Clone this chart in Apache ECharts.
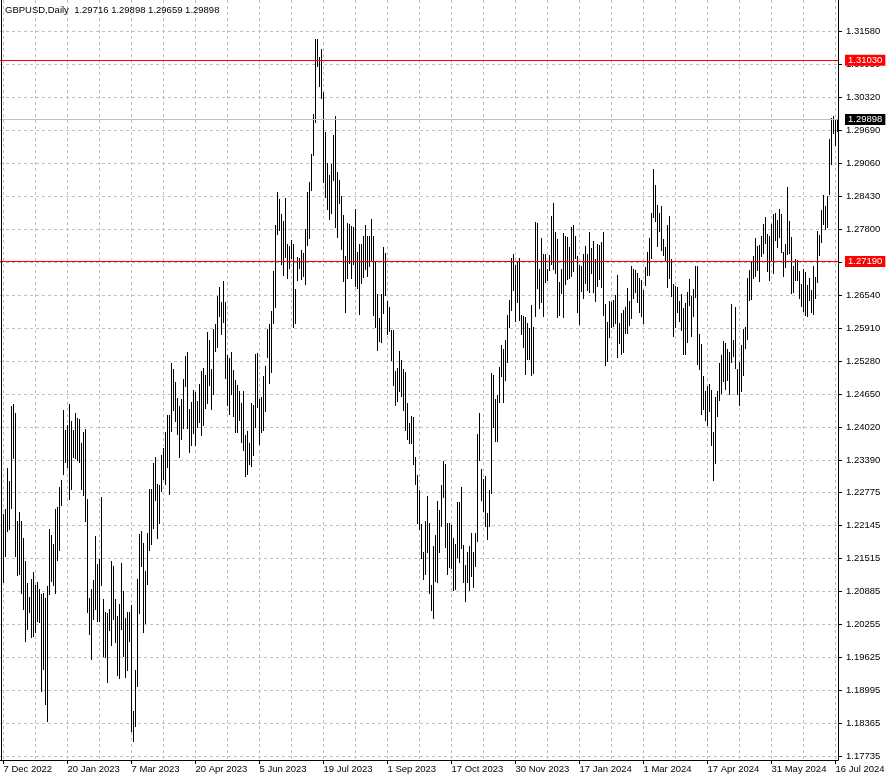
<!DOCTYPE html>
<html><head><meta charset="utf-8">
<script src="https://cdn.jsdelivr.net/npm/echarts@6/dist/echarts.min.js"></script>
<style>html,body{margin:0;padding:0;background:#fff}#c{width:888px;height:781px}</style>
</head><body><div id="c"></div>
<script>
const symbolName = 'GBPUSD';
const timeframe = 'Daily';
const lastBar = { open: 1.29716, high: 1.29898, low: 1.29659, close: 1.29898 };

// daily highs, one per bar (bar 0 = 7 Dec 2022)
const highs = [
1.2236,1.2247,1.2324,1.2299,1.2444,1.2446,1.2429,1.2224,1.2241,1.2224,
1.2192,1.2148,1.2106,1.2079,1.2113,1.2127,1.2102,1.2108,1.2094,1.2085,
1.2087,1.2077,1.2100,1.2208,1.2197,1.2179,1.2247,1.2250,1.2289,1.2301,
1.2436,1.2398,1.2406,1.2447,1.2415,1.2398,1.2430,1.2420,1.2418,1.2373,
1.2394,1.2400,1.2266,1.2077,1.2094,1.2110,1.2194,1.2141,1.2151,1.2270,
1.2075,1.2049,1.2048,1.2056,1.2148,1.2137,1.2075,1.2043,1.2066,1.2144,
1.2089,1.2038,1.2049,1.2049,1.2064,1.1860,1.1940,1.2113,1.2199,1.2205,
1.2182,1.2129,1.2201,1.2285,1.2284,1.2335,1.2345,1.2294,1.2293,1.2350,
1.2362,1.2394,1.2425,1.2425,1.2526,1.2514,1.2488,1.2458,1.2444,1.2457,
1.2495,1.2539,1.2547,1.2438,1.2451,1.2474,1.2469,1.2452,1.2486,1.2509,
1.2516,1.2502,1.2585,1.2570,1.2513,1.2591,1.2600,1.2654,1.2670,1.2641,
1.2681,1.2642,1.2541,1.2535,1.2546,1.2511,1.2493,1.2484,1.2472,1.2448,
1.2471,1.2388,1.2396,1.2373,1.2448,1.2445,1.2542,1.2545,1.2457,1.2460,
1.2501,1.2519,1.2591,1.2600,1.2625,1.2700,1.2788,1.2851,1.2839,1.2809,
1.2796,1.2841,1.2753,1.2749,1.2760,1.2753,1.2667,1.2728,1.2725,1.2740,
1.2735,1.2781,1.2852,1.2870,1.2925,1.3000,1.3144,1.3143,1.3110,1.3124,
1.3043,1.2967,1.2907,1.2884,1.2906,1.2961,1.2997,1.2889,1.2874,1.2844,
1.2807,1.2730,1.2793,1.2791,1.2787,1.2784,1.2820,1.2737,1.2753,1.2753,
1.2768,1.2789,1.2767,1.2768,1.2801,1.2767,1.2719,1.2656,1.2612,1.2656,
1.2747,1.2736,1.2644,1.2633,1.2589,1.2589,1.2510,1.2515,1.2549,1.2531,
1.2513,1.2508,1.2448,1.2411,1.2424,1.2423,1.2346,1.2312,1.2283,1.2217,
1.2165,1.2224,1.2272,1.2220,1.2102,1.2176,1.2196,1.2262,1.2245,1.2293,
1.2339,1.2332,1.2220,1.2220,1.2216,1.2192,1.2179,1.2259,1.2259,1.2289,
1.2177,1.2140,1.2164,1.2175,1.2201,1.2165,1.2201,1.2390,1.2429,1.2323,
1.2304,1.2310,1.2238,1.2282,1.2507,1.2502,1.2457,1.2465,1.2518,1.2560,
1.2552,1.2569,1.2616,1.2646,1.2725,1.2734,1.2712,1.2718,1.2726,1.2616,
1.2615,1.2613,1.2602,1.2592,1.2635,1.2593,1.2795,1.2792,1.2705,1.2763,
1.2733,1.2733,1.2705,1.2732,1.2805,1.2830,1.2775,1.2761,1.2679,1.2705,
1.2773,1.2768,1.2766,1.2747,1.2785,1.2788,1.2768,1.2729,1.2713,1.2711,
1.2733,1.2749,1.2734,1.2776,1.2744,1.2759,1.2723,1.2752,1.2751,1.2756,
1.2775,1.2638,1.2604,1.2643,1.2642,1.2646,1.2655,1.2693,1.2602,1.2620,
1.2626,1.2632,1.2669,1.2643,1.2711,1.2704,1.2702,1.2697,1.2687,1.2683,
1.2665,1.2708,1.2737,1.2763,1.2812,1.2896,1.2865,1.2826,1.2812,1.2824,
1.2761,1.2747,1.2789,1.2805,1.2723,1.2676,1.2672,1.2670,1.2643,1.2656,
1.2631,1.2639,1.2660,1.2686,1.2653,1.2666,1.2711,1.2710,1.2580,1.2561,
1.2500,1.2472,1.2482,1.2486,1.2474,1.2393,1.2460,1.2471,1.2526,1.2541,
1.2568,1.2564,1.2551,1.2546,1.2637,1.2570,1.2632,1.2514,1.2528,1.2560,
1.2590,1.2593,1.2688,1.2702,1.2720,1.2729,1.2763,1.2748,1.2751,1.2768,
1.2791,1.2803,1.2772,1.2767,1.2790,1.2809,1.2812,1.2798,1.2819,1.2810,
1.2738,1.2753,1.2861,1.2796,1.2765,1.2711,1.2723,1.2722,1.2700,1.2676,
1.2704,1.2699,1.2675,1.2687,1.2665,1.2710,1.2690,1.2777,1.2769,1.2818,
1.2846,1.2825,1.2844,1.2952,1.2992,1.2996,1.2991,1.29898
];

// daily lows, one per bar
const lows = [
1.2105,1.2154,1.2202,1.2206,1.2246,1.2341,1.2154,1.2118,1.2120,1.2084,
1.2054,1.1992,1.2016,1.2047,1.2001,1.2002,1.2010,1.2030,1.2029,1.1898,
1.1940,1.1872,1.1839,1.2082,1.2107,1.2099,1.2085,1.2148,1.2167,1.2253,
1.2312,1.2334,1.2324,1.2264,1.2282,1.2344,1.2341,1.2338,1.2335,1.2283,
1.2272,1.2221,1.2048,1.2005,1.1959,1.2034,1.2054,1.2031,1.2031,1.2099,
1.1964,1.1962,1.1914,1.2013,1.1984,1.2034,1.1990,1.1927,1.1921,1.2015,
1.1963,1.1923,1.1938,1.1992,1.1820,1.1801,1.1830,1.1907,1.2046,1.2135,
1.2009,1.2026,1.2101,1.2166,1.2177,1.2208,1.2261,1.2189,1.2217,1.2279,
1.2301,1.2292,1.2324,1.2273,1.2394,1.2433,1.2412,1.2388,1.2343,1.2378,
1.2399,1.2479,1.2399,1.2353,1.2366,1.2390,1.2367,1.2401,1.2410,1.2386,
1.2404,1.2437,1.2446,1.2481,1.2435,1.2464,1.2546,1.2554,1.2613,1.2578,
1.2602,1.2495,1.2444,1.2425,1.2465,1.2422,1.2391,1.2391,1.2414,1.2373,
1.2357,1.2307,1.2311,1.2331,1.2326,1.2347,1.2401,1.2440,1.2368,1.2391,
1.2395,1.2431,1.2534,1.2486,1.2506,1.2600,1.2631,1.2769,1.2777,1.2712,
1.2691,1.2725,1.2686,1.2705,1.2724,1.2592,1.2599,1.2681,1.2704,1.2684,
1.2689,1.2674,1.2749,1.2761,1.2854,1.2920,1.2983,1.3090,1.3052,1.3029,
1.2868,1.2840,1.2817,1.2798,1.2810,1.2872,1.2782,1.2763,1.2828,1.2740,
1.2679,1.2620,1.2686,1.2714,1.2685,1.2712,1.2670,1.2666,1.2616,1.2676,
1.2688,1.2702,1.2690,1.2708,1.2720,1.2614,1.2592,1.2548,1.2565,1.2563,
1.2618,1.2653,1.2578,1.2585,1.2529,1.2481,1.2444,1.2450,1.2469,1.2460,
1.2433,1.2396,1.2378,1.2370,1.2370,1.2331,1.2293,1.2217,1.2207,1.2151,
1.2110,1.2120,1.2162,1.2084,1.2052,1.2036,1.2107,1.2105,1.2162,1.2212,
1.2268,1.2172,1.2121,1.2134,1.2131,1.2089,1.2091,1.2152,1.2143,1.2171,
1.2105,1.2068,1.2105,1.2089,1.2117,1.2095,1.2135,1.2183,1.2338,1.2261,
1.2240,1.2212,1.2187,1.2212,1.2276,1.2402,1.2375,1.2374,1.2449,1.2498,
1.2448,1.2491,1.2525,1.2592,1.2624,1.2663,1.2603,1.2639,1.2606,1.2578,
1.2553,1.2502,1.2530,1.2530,1.2500,1.2505,1.2613,1.2667,1.2628,1.2640,
1.2613,1.2678,1.2682,1.2700,1.2712,1.2702,1.2695,1.2611,1.2614,1.2657,
1.2611,1.2675,1.2683,1.2686,1.2689,1.2698,1.2723,1.2620,1.2597,1.2661,
1.2648,1.2676,1.2662,1.2659,1.2695,1.2658,1.2642,1.2671,1.2684,1.2669,
1.2615,1.2519,1.2528,1.2572,1.2592,1.2593,1.2599,1.2534,1.2562,1.2541,
1.2545,1.2581,1.2581,1.2595,1.2609,1.2648,1.2658,1.2640,1.2621,1.2613,
1.2600,1.2673,1.2691,1.2692,1.2723,1.2802,1.2795,1.2746,1.2775,1.2739,
1.2730,1.2718,1.2669,1.2686,1.2651,1.2575,1.2592,1.2621,1.2604,1.2586,
1.2540,1.2540,1.2563,1.2634,1.2575,1.2613,1.2649,1.2522,1.2511,1.2426,
1.2435,1.2415,1.2404,1.2431,1.2366,1.2299,1.2333,1.2422,1.2452,1.2466,
1.2488,1.2474,1.2490,1.2465,1.2525,1.2537,1.2513,1.2465,1.2444,1.2470,
1.2500,1.2551,1.2570,1.2644,1.2646,1.2686,1.2689,1.2700,1.2680,1.2728,
1.2733,1.2753,1.2698,1.2681,1.2720,1.2695,1.2759,1.2745,1.2763,1.2735,
1.2689,1.2706,1.2732,1.2734,1.2657,1.2659,1.2681,1.2681,1.2648,1.2632,
1.2623,1.2614,1.2613,1.2643,1.2621,1.2616,1.2648,1.2678,1.2729,1.2754,
1.2789,1.2780,1.2782,1.2845,1.2903,1.2962,1.2939,1.29659
];

// date labels on the time axis, one every 32 bars
const dateLabels = ['7 Dec 2022','20 Jan 2023','7 Mar 2023','20 Apr 2023','5 Jun 2023','19 Jul 2023',
  '1 Sep 2023','17 Oct 2023','30 Nov 2023','17 Jan 2024','1 Mar 2024','17 Apr 2024','31 May 2024','16 Jul 2024'];
const barsPerLabel = 32;
const barsPerGridline = 16;

// price tick labels on the right scale
const priceTicks = [1.31580,1.30950,1.30320,1.29690,1.29060,1.28430,1.27800,1.27170,1.26540,1.25910,
  1.25280,1.24650,1.24020,1.23390,1.22775,1.22145,1.21515,1.20885,1.20255,1.19625,1.18995,1.18365,1.17735];

// horizontal levels
const levelLines = [1.31030, 1.27190];
const currentPrice = 1.29898;

const FONT = '"Liberation Sans", Arial, sans-serif';
const FS = 9.5;
const n = highs.length;
const yMin = 1.176723, yMax = 1.321814;

const barData = highs.map((h, i) => [i, h, lows[i]]);
const labelIdx = dateLabels.map((_, k) => k * barsPerLabel);
const gridIdx = [];
for (let v = 0; v < n; v += barsPerGridline) gridIdx.push(v);

const chart = echarts.init(document.getElementById('c'), null, { renderer: 'canvas' });

const markLabel = (bg) => ({
  show: true, position: 'end', distance: 7,
  formatter: p => Number(p.value).toFixed(5),
  color: '#fff', backgroundColor: bg, padding: [1, 3, 0, 3],
  fontSize: FS, fontFamily: FONT
});

const option = {
  animation: false,
  backgroundColor: '#ffffff',
  grid: { left: 0, top: 0, width: 838, height: 760, containLabel: false },
  xAxis: [
    {
      type: 'value', min: -1.75, max: n - 0.75, position: 'bottom',
      axisLine: { show: true, onZero: false, lineStyle: { color: '#000', width: 1 } },
      axisTick: { show: true, length: 4, customValues: labelIdx, lineStyle: { color: '#000' } },
      axisLabel: {
        customValues: labelIdx, align: 'left', margin: 4,
        formatter: v => dateLabels[Math.round(v / barsPerLabel)] || '',
        fontSize: FS, fontFamily: FONT, color: '#000'
      },
      splitLine: { show: false }
    },
    {
      type: 'value', min: -1.75, max: n - 0.75, position: 'bottom',
      axisLine: { show: false }, axisLabel: { show: false },
      axisTick: { show: false, customValues: gridIdx },
      splitLine: { show: true, lineStyle: { color: '#c0c0c0', width: 1, type: [3, 3] } }
    }
  ],
  yAxis: {
    type: 'value', min: yMin, max: yMax, position: 'right',
    axisLine: { show: true, onZero: false, lineStyle: { color: '#000', width: 1 } },
    axisTick: { show: true, length: 4, customValues: priceTicks, lineStyle: { color: '#000' } },
    axisLabel: {
      customValues: priceTicks, margin: 8,
      formatter: v => Number(v).toFixed(5),
      fontSize: FS, fontFamily: FONT, color: '#000'
    },
    splitLine: { show: true, lineStyle: { color: '#c0c0c0', width: 1, type: [3, 3] } }
  },
  graphic: [
    {
      type: 'text', left: 5, top: 5, z: 100,
      style: {
        text: symbolName + ',' + timeframe + '  ' +
          [lastBar.open, lastBar.high, lastBar.low, lastBar.close].map(v => v.toFixed(5)).join(' '),
        font: FS + 'px ' + FONT, fill: '#000'
      }
    },
    {
      type: 'line', z: 100, silent: true,
      shape: { x1: 1.5, y1: 0, x2: 1.5, y2: 760 },
      style: { stroke: '#000', lineWidth: 1 }
    }
  ],
  series: [
    {
      type: 'line', data: [], silent: true, z: 1,
      markLine: {
        silent: true, symbol: ['none', 'none'], animation: false, precision: 5,
        data: [
          { yAxis: currentPrice, lineStyle: { color: '#c0c0c0', type: 'solid', width: 1 }, label: markLabel('#000') }
        ]
      }
    },
    {
      type: 'custom', xAxisIndex: 0, yAxisIndex: 0, z: 3, silent: true,
      data: barData,
      encode: { x: 0, y: [1, 2] },
      renderItem: (params, api) => {
        const top = api.coord([api.value(0), api.value(1)]);
        const bot = api.coord([api.value(0), api.value(2)]);
        const x = Math.floor(top[0]) + 0.5;
        let y1 = Math.round(top[1]), y2 = Math.round(bot[1]);
        if (y2 - y1 < 1) y2 = y1 + 1;
        return { type: 'line', shape: { x1: x, y1: y1, x2: x, y2: y2 }, style: { stroke: '#000', lineWidth: 1 } };
      }
    },
    {
      type: 'line', data: [], silent: true, z: 5,
      markLine: {
        silent: true, symbol: ['none', 'none'], animation: false, precision: 5,
        data: levelLines.map(v => ({ yAxis: v, lineStyle: { color: '#ff0000', type: 'solid', width: 1 }, label: markLabel('#ff0000') }))
      }
    }
  ]
};
chart.setOption(option);
</script>
</body></html>
